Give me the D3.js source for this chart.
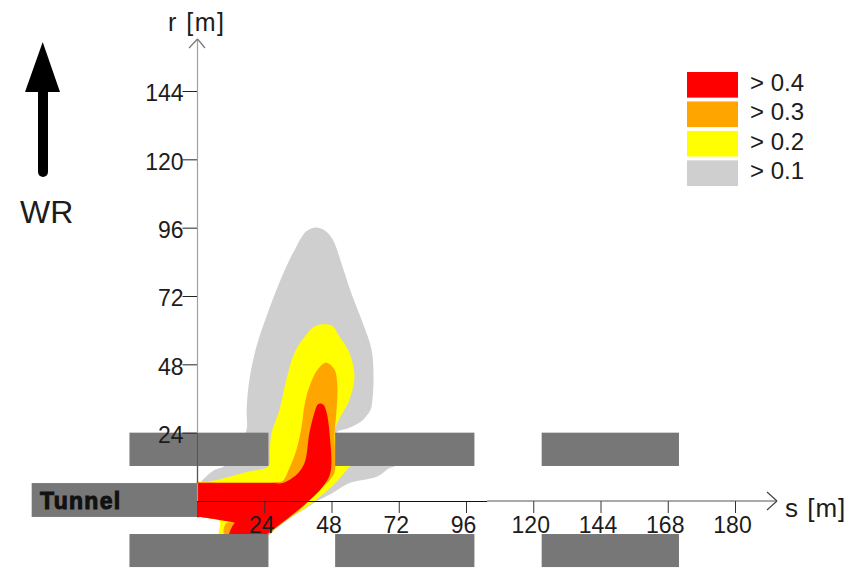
<!DOCTYPE html>
<html>
<head>
<meta charset="utf-8">
<script src="https://d3js.org/d3.v7.min.js"></script>
<style>
  body { margin: 0; background: #fff; }
  text { font-family: "Liberation Sans", Arial, sans-serif; fill: #1c1c1c; }
</style>
</head>
<body>
<div id="my_dataviz"></div>
<script>
  // axis ticks (the last s tick is labelled 180 in the original although it sits at 192)
  const sTicks = [24, 48, 72, 96, 120, 144, 168, 192];
  const sTickLabels = ["24", "48", "72", "96", "120", "144", "168", "180"];
  const rTicks = [24, 48, 72, 96, 120, 144];

  // legend
  const levels = ["> 0.4", "> 0.3", "> 0.2", "> 0.1"];
  const levelColors = ["#ff0000", "#ffa500", "#ffff00", "#cfcfcf"];

  // contour outlines, in metres
  const grayS = [42.5, 45.5, 48.4, 51.9, 55.5, 59.1, 62.3, 63.0, 62.6, 61.9, 58.4, 54.4, 49.8, 70.5, 68.7, 64.1, 54.4, 48.4, 43.7, 31.2, 1, 0, 0, 1, 2.7, 6.2, 9.8, 15.2, 17.7, 17.7, 18.7, 21.2, 24.8, 28.4, 31.9, 35.5, 39];
  const grayR = [96.1, 95.1, 91.9, 82.4, 71.8, 62.7, 53.2, 43.7, 35.6, 32, 27.8, 25.7, 23.9, 12.3, 11.6, 8.5, 6.3, 2.8, 0.4, -6, -3.2, -3.2, 6, 6.4, 8.1, 10.9, 12.3, 19.7, 25, 32, 42.6, 54.2, 64.8, 74.3, 82.4, 89.4, 94.7];

  const yellowS = [42.6, 48, 50.9, 54.4, 56.2, 54.4, 50.1, 49.1, 52.6, 54.8, 54.4, 49.8, 43.7, 39.1, 31.9, 25.9, 24, 8, 8, 2, 1, 0, 0, 1, 7, 17.7, 25.5, 26, 26.6, 29.4, 31.9, 34.8, 39.1];
  const yellowR = [61.6, 61.6, 57.7, 52.1, 43.7, 35.6, 27.5, 23.9, 18, 12.3, 12, 6.7, 1.4, -2.1, -6.7, -11.3, -13.7, -13.7, -7, -5.9, -5.6, -5.6, 6.3, 6.4, 7.4, 10.2, 12.3, 18, 23.9, 32, 42.6, 52.1, 58.5];

  const orangeS = [46.2, 49.1, 50.1, 49.8, 49.1, 49.1, 47.3, 41.2, 36.6, 28.4, 25.2, 9.8, 10.5, 13.4, 1, 0, 0, 1, 28, 30.5, 33, 35.5, 37.3, 38.4, 40.1, 43];
  const orangeR = [48.6, 46.1, 40.1, 32, 23.9, 10.2, 7.4, 1.4, -3.2, -9.5, -12, -12, -7.7, -7.7, -5.6, -5.6, 6.7, 6.7, 6.7, 7, 11.6, 18, 26, 33.8, 40.1, 46.1];

  const redS = [43.7, 45.1, 46.2, 47.3, 47.6, 44.8, 39.4, 33, 25.9, 24.1, 11.6, 12.5, 13.4, 12, 1, 0, 0, 1, 27, 30.5, 35.5, 38.4, 40.1, 41.9, 43];
  const redR = [34.2, 33.8, 31.3, 23.9, 9.9, 4.9, -0.4, -5.6, -10.9, -12.3, -12.3, -9, -7.7, -7.3, -5.6, -5.6, 6.3, 6.3, 6.3, 6.3, 9.2, 13.4, 23.9, 31, 33.8];

  // grey blocks next to the road, in metres
  const blockStart = [-24.1, 49.3, 123];
  const blockEnd = [25.5, 99, 172];
  const upperRow = [12.3, 24];
  const lowerRow = [-23.2, -11.6];
  const tunnelS = [-59, 0];
  const tunnelR = [-5.6, 6.3];

  var svg = d3.select("#my_dataviz")
    .append("svg")
      .attr("width", 857)
      .attr("height", 571);

  var x = d3.scaleLinear().domain([0, 192]).range([197, 735]);
  var y = d3.scaleLinear().domain([0, 144]).range([501, 91]);

  // contours, largest first
  var line = d3.line()
    .x(function(d) { return x(d[0]); })
    .y(function(d) { return y(d[1]); })
    .curve(d3.curveCatmullRomClosed.alpha(0.5));

  var contours = [[grayS, grayR, 3], [yellowS, yellowR, 2], [orangeS, orangeR, 1], [redS, redR, 0]];
  svg.append("g")
    .selectAll("path")
    .data(contours)
    .enter()
    .append("path")
      .attr("d", function(d) { return line(d3.zip(d[0], d[1])); })
      .style("fill", function(d) { return levelColors[d[2]]; });

  // blocks sit on top of the contours
  var blocks = [];
  blockStart.forEach(function(s, i) {
    blocks.push([s, blockEnd[i], upperRow[0], upperRow[1]]);
    blocks.push([s, blockEnd[i], lowerRow[0], lowerRow[1]]);
  });
  blocks.push([tunnelS[0], tunnelS[1], tunnelR[0], tunnelR[1]]);

  svg.append("g")
    .selectAll("rect")
    .data(blocks)
    .enter()
    .append("rect")
      .attr("x", function(d) { return x(d[0]); })
      .attr("y", function(d) { return y(d[3]); })
      .attr("width", function(d) { return x(d[1]) - x(d[0]); })
      .attr("height", function(d) { return y(d[2]) - y(d[3]); })
      .style("fill", "#777777");

  svg.append("text")
    .attr("x", 40)
    .attr("y", 509)
    .style("font-size", "23px")
    .style("font-weight", "bold")
    .style("letter-spacing", "1.3px")
    .style("fill", "#111")
    .style("stroke", "#111")
    .style("stroke-width", "1px")
    .text("Tunnel");

  // X axis
  var xAxis = svg.append("g")
    .attr("transform", "translate(0,501)")
    .call(d3.axisBottom(x)
      .tickValues(sTicks)
      .tickSize(12)
      .tickSizeOuter(0)
      .tickFormat(function(d, i) { return sTickLabels[i]; }));
  xAxis.select(".domain").remove();
  xAxis.selectAll(".tick line").attr("stroke", "#333");
  xAxis.selectAll("text")
    .attr("dx", -3)
    .attr("y", 16)
    .style("font-size", "23px");

  // Y axis
  var yAxis = svg.append("g")
    .attr("transform", "translate(197.5,0)")
    .call(d3.axisLeft(y)
      .tickValues(rTicks)
      .tickSize(15)
      .tickSizeOuter(0));
  yAxis.select(".domain").remove();
  yAxis.selectAll(".tick line").attr("stroke", "#222");
  yAxis.selectAll("text")
    .attr("x", -14)
    .attr("dy", "0.65em")
    .attr("y", -5)
    .style("font-size", "23px");

  // axis lines with open arrow heads
  var axisLines = [
    [[197.5, 501], [197.5, 39], "#a0a0a0"],
    [[197.5, 433], [197.5, 483], "#555555"],
    [[197.5, 501.5], [487, 501.5], "#111111"],
    [[487, 501], [777, 501], "#555555"],
    [[189, 48], [197.5, 39], "#777777"],
    [[197.5, 39], [205, 48], "#777777"],
    [[767, 492], [777, 501], "#444444"],
    [[777, 501], [767, 510], "#444444"]
  ];
  svg.append("g")
    .selectAll("line")
    .data(axisLines)
    .enter()
    .append("line")
      .attr("x1", function(d) { return d[0][0]; })
      .attr("y1", function(d) { return d[0][1]; })
      .attr("x2", function(d) { return d[1][0]; })
      .attr("y2", function(d) { return d[1][1]; })
      .style("stroke", function(d) { return d[2]; })
      .style("stroke-width", 1.2);

  svg.append("text")
    .attr("x", 168)
    .attr("y", 31)
    .style("font-size", "25px")
    .style("letter-spacing", "1.5px")
    .text("r [m]");

  svg.append("text")
    .attr("x", 785)
    .attr("y", 517)
    .style("font-size", "26px")
    .style("letter-spacing", "1px")
    .text("s [m]");

  // wind direction arrow
  svg.append("line")
    .attr("x1", 43)
    .attr("y1", 90)
    .attr("x2", 43)
    .attr("y2", 172)
    .style("stroke", "#000")
    .style("stroke-width", 10)
    .style("stroke-linecap", "round");
  svg.append("path")
    .attr("d", d3.line()([[42.7, 42], [60, 92], [25, 92]]) + "Z")
    .style("fill", "#000");
  svg.append("text")
    .attr("x", 20)
    .attr("y", 223)
    .style("font-size", "32px")
    .text("WR");

  // Legend
  var legendY = d3.scaleBand().domain(levels).range([72, 186]).paddingInner(0.13);
  var legend = svg.append("g")
    .selectAll("g")
    .data(levels)
    .enter()
    .append("g")
      .attr("transform", function(d) { return "translate(687," + legendY(d) + ")"; });
  legend.append("rect")
    .attr("width", 51)
    .attr("height", legendY.bandwidth())
    .style("fill", function(d, i) { return levelColors[i]; });
  legend.append("text")
    .attr("x", 63)
    .attr("y", 19)
    .style("font-size", "24px")
    .text(function(d) { return d; });
</script>
</body>
</html>
